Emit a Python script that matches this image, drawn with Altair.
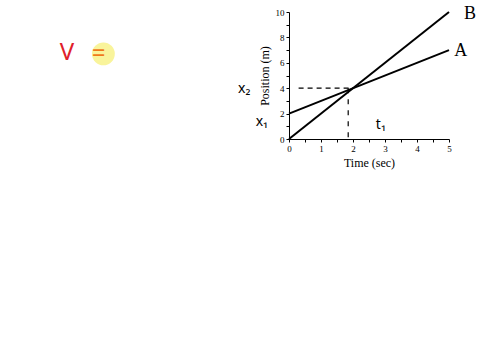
import altair as alt
import pandas as pd

# Data
time = [0, 5]
pos_a = [2, 7]
pos_b = [0, 10]
line_names = ["A", "B"]
label_x = [5.37, 5.66]
label_y = [6.9, 9.86]

x_ticks = [0, 0.5, 1, 1.5, 2, 2.5, 3, 3.5, 4, 4.5, 5]
y_ticks = [0, 1, 2, 3, 4, 5, 6, 7, 8, 9, 10]

dash_h_x = [0.3, 2.0]
dash_h_y = [4, 4]
dash_v_x = [1.85, 1.85]
dash_v_y = [4, 0]

ann_text = ["x₂", "x₁", "t₁"]
ann_x = [-1.4, -0.85, 2.87]
ann_y = [3.95, 1.35, 1.1]

v_text = ["V", "="]
v_x = [-6.94, -5.95]
v_y = [6.75, 6.7]
v_color = ["#e0202a", "#f07a1a"]

circle_x = [-5.8]
circle_y = [6.7]

lines = pd.DataFrame({
    "t": time * 2,
    "p": pos_a + pos_b,
    "line": ["A", "A", "B", "B"],
})
labels = pd.DataFrame({"x": label_x, "y": label_y, "text": line_names})
dh = pd.DataFrame({"x": dash_h_x, "y": dash_h_y})
dv = pd.DataFrame({"x": dash_v_x, "y": dash_v_y})
ann = pd.DataFrame({"x": ann_x, "y": ann_y, "text": ann_text})
vdf = pd.DataFrame({"x": v_x, "y": v_y, "text": v_text, "c": v_color})
cdf = pd.DataFrame({"x": circle_x, "y": circle_y})

xs = alt.Scale(domain=[0, 5], nice=False, zero=False)
ys = alt.Scale(domain=[0, 10], nice=False, zero=False)

common = dict(grid=False, domainColor="black", tickColor="black", tickSize=3,
              labelFont="Liberation Serif", labelFontSize=9, labelColor="black",
              labelOverlap=False, labelFlush=False,
              titleFont="Liberation Serif", titleFontSize=12, titleFontWeight="normal",
              titleColor="black", titlePadding=4, labelPadding=2)

xaxis = alt.Axis(title="Time (sec)", values=x_ticks,
                 labelExpr="datum.value % 1 == 0 ? format(datum.value, 'd') : ''", **common)
yaxis = alt.Axis(title="Position (m)", values=y_ticks,
                 labelExpr="datum.value % 2 == 0 ? format(datum.value, 'd') : ''", **common)


def X(f):
    return alt.X(f, scale=xs, axis=xaxis)


def Y(f):
    return alt.Y(f, scale=ys, axis=yaxis)


base_lines = alt.Chart(lines).mark_line(color="black", strokeWidth=2, clip=False).encode(
    x=X("t:Q"), y=Y("p:Q"), detail="line:N",
)

circle = alt.Chart(cdf).mark_point(filled=True, shape="circle", size=520, color="#f8f28a",
                                   opacity=0.85, clip=False).encode(x=X("x:Q"), y=Y("y:Q"))

lbl = alt.Chart(labels).mark_text(font="Liberation Serif", fontSize=18, color="black",
                                  align="center", baseline="middle", clip=False).encode(
    x=X("x:Q"), y=Y("y:Q"), text="text:N")

dash1 = alt.Chart(dh).mark_line(color="black", strokeWidth=1.2, strokeDash=[5, 4], clip=False).encode(
    x=X("x:Q"), y=Y("y:Q"))
dash2 = alt.Chart(dv).mark_line(color="black", strokeWidth=1.2, strokeDash=[5, 6], clip=False).encode(
    x=X("x:Q"), y=Y("y:Q"))

annot = alt.Chart(ann).mark_text(font="Noto Sans", fontSize=14, color="black",
                                 align="center", baseline="middle", clip=False).encode(
    x=X("x:Q"), y=Y("y:Q"), text="text:N")

vtxt = alt.Chart(vdf).mark_text(font="Noto Sans", fontSize=24, align="center",
                                baseline="middle", clip=False).encode(
    x=X("x:Q"), y=Y("y:Q"), text="text:N",
    color=alt.Color("c:N", scale=None))

chart = alt.layer(base_lines, dash1, dash2, lbl, annot, circle, vtxt).properties(
    width=160, height=127,
    autosize=alt.AutoSizeParams(type="none"),
    padding={"left": 289, "top": 12, "right": 31, "bottom": 221},
    background="white",
).configure_view(stroke=None)

chart.save("out.html", embed_options={"renderer": "svg", "actions": False})
